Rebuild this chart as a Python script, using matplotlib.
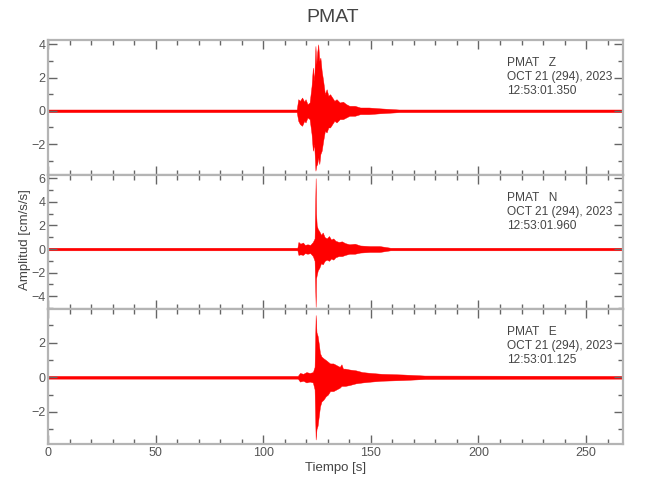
import numpy as np
import matplotlib
matplotlib.use("Agg")
import matplotlib.pyplot as plt
from matplotlib.ticker import MultipleLocator

plt.rcParams['font.family'] = ['Liberation Sans', 'DejaVu Sans']

station = "PMAT"
components = ["Z", "N", "E"]
date_line = "OCT 21 (294), 2023"
start_times = ["12:53:01.350", "12:53:01.960", "12:53:01.125"]

# envelopes (time [s], upper, lower)
t_z = [0, 115.5, 116.2, 117, 118, 119, 119.6, 120.5, 121.5, 122.4, 123, 123.6, 124.2, 124.6, 125.0,
       125.5, 126.0, 126.5, 127.1, 127.8, 128.6, 129.4, 130.2, 131, 132, 133, 134, 135.5, 137, 138.5,
       140, 142.5, 145, 149, 154, 163, 267]
up_z = [.08, .08, .7, .6, .8, .55, .7, .4, .5, 1.5, 2.6, 1.8, 3.9, 2.8, 3.5,
        4.0, 3.0, 3.2, 2.4, 1.8, 1.0, 1.3, 0.9, 1.0, 0.8, 0.6, 0.7, 0.5, 0.55, 0.4,
        0.3, 0.3, 0.2, 0.2, 0.15, 0.08, 0.08]
lo_z = [-.08, -.08, -.6, -.8, -.9, -.6, -.7, -.4, -.5, -1.4, -2.4, -2.0, -3.6, -3.3, -3.2,
        -2.8, -3.2, -2.6, -2.4, -1.8, -1.2, -1.3, -1.0, -1.0, -0.8, -0.6, -0.7, -0.5, -0.5, -0.4,
        -0.3, -0.3, -0.2, -0.2, -0.15, -0.08, -0.08]

t_n = [0, 115.8, 116.3, 117.2, 118.4, 119.3, 120.5, 121.8, 123.0, 123.8, 124.3, 124.5, 124.8, 125.3,
       126, 126.8, 127.6, 128.5, 129.5, 130.5, 131.5, 132.5, 133.5, 135, 136.5, 138, 140, 142.5,
       145, 149.5, 154, 159, 267]
up_n = [.11, .11, .6, .45, .55, .35, .4, .35, .6, .9, 6.0, 3.0, 2.0, 1.7,
        1.5, 1.2, 1.4, 1.0, 0.9, 1.1, 0.8, 0.9, 0.7, 0.6, 0.65, 0.5, 0.4, 0.45,
        0.3, 0.25, 0.25, 0.11, 0.11]
lo_n = [-.11, -.11, -.5, -.45, -.5, -.35, -.4, -.35, -.6, -1.0, -4.9, -2.5, -2.2, -1.8,
        -1.6, -1.2, -1.3, -1.0, -0.9, -1.0, -0.8, -0.9, -0.7, -0.6, -0.6, -0.5, -0.4, -0.4,
        -0.3, -0.25, -0.25, -0.11, -0.11]

t_e = [0, 116, 117, 118.5, 120, 121.5, 123, 123.8, 124.3, 124.7, 125.2, 125.8, 126.3, 127, 127.9,
       129, 130, 131, 132.5, 134, 135.5, 136.3, 137, 138, 140, 143, 146, 150, 155, 165, 175, 267]
up_e = [.08, .08, .25, .2, .3, .25, .3, .6, 3.6, 2.6, 2.4, 1.9, 1.4, 1.2, 1.1,
        1.0, 0.9, 0.8, 0.8, 0.7, 0.6, 0.75, 0.5, 0.5, 0.45, 0.4, 0.3, 0.25, 0.2, 0.16, 0.1, 0.08]
lo_e = [-.08, -.08, -.25, -.2, -.3, -.25, -.3, -.7, -3.6, -3.0, -2.8, -2.2, -1.7, -1.4, -1.3,
        -1.1, -1.0, -0.8, -0.8, -0.7, -0.6, -0.5, -0.5, -0.5, -0.45, -0.35, -0.3, -0.25, -0.2, -0.16, -0.1, -0.08]

traces = [(t_z, up_z, lo_z), (t_n, up_n, lo_n), (t_e, up_e, lo_e)]
ylims = [(-3.86, 4.26), (-5.08, 6.27), (-3.86, 3.95)]

fig = plt.figure(figsize=(6.5, 5), dpi=100)
left, width = 0.0743, 0.8842
bottoms = [0.65, 0.382, 0.112]
heights = [0.27, 0.268, 0.27]

spine_c = "#b4b4b4"
text_c = "#444444"
axes = []
for i in range(3):
    ax = fig.add_axes([left, bottoms[i], width, heights[i]])
    t, up, lo = traces[i]
    ax.fill_between(t, lo, up, color="red", linewidth=0.3, edgecolor="red")
    ax.set_xlim(0, 267.2)
    ax.set_ylim(*ylims[i])
    ax.xaxis.set_major_locator(MultipleLocator(50))
    ax.xaxis.set_minor_locator(MultipleLocator(10))
    ax.yaxis.set_major_locator(MultipleLocator(2))
    ax.yaxis.set_minor_locator(MultipleLocator(1))
    ax.tick_params(which="both", direction="in", top=True, right=True,
                   color="#666666", labelcolor="#555555", labelsize=9, width=1)
    ax.tick_params(which="major", length=6.5, pad=2)
    ax.tick_params(which="minor", length=3.5)
    for s in ax.spines.values():
        s.set_color(spine_c)
        s.set_linewidth(1.6)
    if i < 2:
        ax.tick_params(labelbottom=False)
    lines = [station + "   " + components[i], date_line, start_times[i]]
    for k, line in enumerate(lines):
        y = 0.876 - k * 14.3 / (heights[i] * 500)
        ax.text(0.7977, y, line, transform=ax.transAxes, ha="left", va="top",
                fontsize=8.6, color=text_c)
    axes.append(ax)

fig.text(0.5125, 0.964, station, ha="center", va="center", fontsize=14, color=text_c)
axes[2].set_xlabel("Tiempo [s]", fontsize=9.5, color=text_c, labelpad=2)
fig.text(0.038, 0.52, "Amplitud [cm/s/s]", rotation=90, ha="center", va="center",
         fontsize=9.5, color=text_c)

fig.savefig("out.png", dpi=100)
